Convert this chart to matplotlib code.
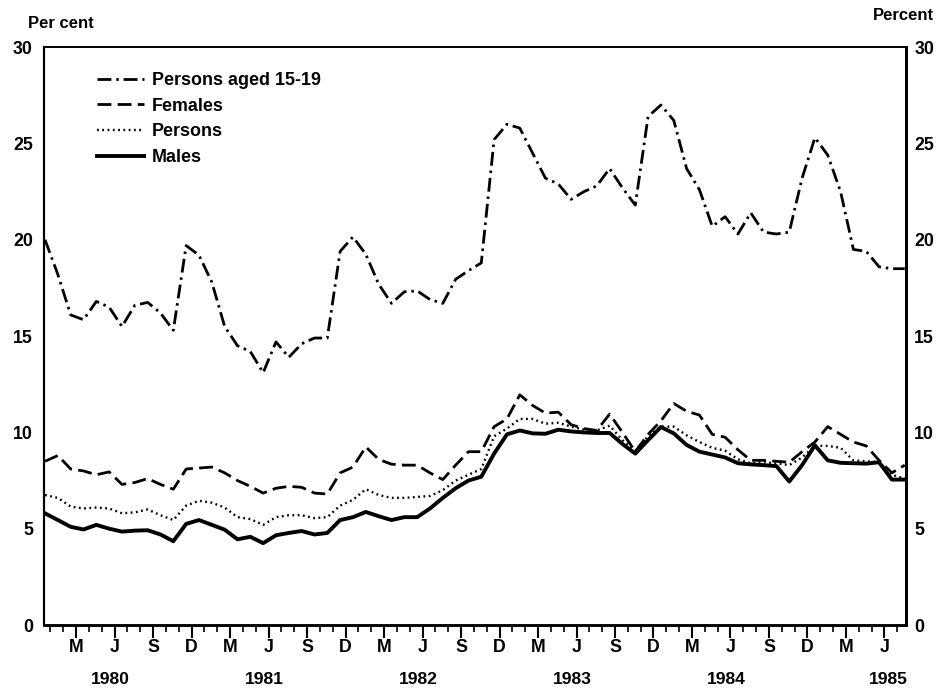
import matplotlib
matplotlib.use("Agg")
import matplotlib.pyplot as plt
import numpy as np

plt.rcParams['font.family'] = ['Liberation Sans', 'DejaVu Sans']
plt.rcParams['font.weight'] = 'bold'
plt.rcParams['lines.scale_dashes'] = False

# monthly values, Jan 1980 .. Aug 1985 (68 points)
teens = [20.0, 18.2, 16.1, 15.85, 16.8, 16.5, 15.5, 16.6, 16.75, 16.2,
         15.3, 19.7, 19.2, 17.8, 15.5, 14.5, 14.2, 13.1, 14.7, 13.9,
         14.6, 14.9, 14.9, 19.4, 20.15, 19.25, 17.7, 16.7, 17.3, 17.35,
         16.9, 16.7, 17.95, 18.4, 18.8, 25.2, 26.0, 25.8, 24.5, 23.2,
         22.9, 22.1, 22.5, 22.8, 23.7, 22.7, 21.8, 26.4, 27.0, 26.2,
         23.7, 22.6, 20.7, 21.2, 20.3, 21.4, 20.4, 20.3, 20.4, 23.2,
         25.3, 24.4, 22.5, 19.5, 19.4, 18.6, 18.5, 18.5]
females = [8.5, 8.8, 8.1, 8.0, 7.8, 7.95, 7.3, 7.4, 7.6, 7.3,
           7.05, 8.1, 8.15, 8.2, 7.9, 7.5, 7.2, 6.85, 7.1, 7.2,
           7.15, 6.85, 6.8, 7.9, 8.2, 9.25, 8.6, 8.35, 8.3, 8.3,
           7.9, 7.55, 8.3, 9.0, 9.0, 10.3, 10.7, 11.95, 11.4, 11.0,
           11.05, 10.4, 10.2, 10.1, 10.95, 10.0, 9.0, 9.9, 10.6, 11.5,
           11.1, 10.9, 9.9, 9.75, 9.1, 8.55, 8.55, 8.5, 8.45, 9.0,
           9.5, 10.3, 9.9, 9.5, 9.3, 8.55, 7.9, 8.3]
persons = [6.75, 6.6, 6.15, 6.05, 6.1, 6.05, 5.8, 5.85, 6.0, 5.7,
           5.45, 6.2, 6.45, 6.35, 6.1, 5.6, 5.5, 5.2, 5.6, 5.7,
           5.7, 5.55, 5.6, 6.2, 6.5, 7.05, 6.75, 6.6, 6.6, 6.65,
           6.7, 7.0, 7.5, 7.8, 8.1, 9.8, 10.2, 10.7, 10.7, 10.45,
           10.5, 10.3, 10.15, 10.1, 10.35, 9.6, 9.07, 9.8, 10.3, 10.3,
           9.85, 9.5, 9.2, 9.05, 8.6, 8.4, 8.45, 8.4, 8.3, 8.7,
           9.3, 9.3, 9.2, 8.55, 8.5, 8.46, 7.8, 7.6]
males = [5.8, 5.45, 5.1, 4.96, 5.2, 5.0, 4.85, 4.9, 4.92, 4.7,
         4.35, 5.25, 5.45, 5.2, 4.95, 4.45, 4.58, 4.25, 4.66, 4.78,
         4.88, 4.7, 4.78, 5.45, 5.6, 5.87, 5.65, 5.45, 5.6, 5.6,
         6.05, 6.6, 7.1, 7.5, 7.7, 8.9, 9.9, 10.1, 9.95, 9.93,
         10.14, 10.05, 10.0, 9.97, 9.97, 9.4, 8.9, 9.6, 10.28, 9.95,
         9.35, 9.0, 8.85, 8.7, 8.4, 8.34, 8.3, 8.25, 7.45, 8.3,
         9.33, 8.55, 8.42, 8.4, 8.38, 8.45, 7.55, 7.55]

month_letters = ['M', 'J', 'S', 'D']
years = ['1980', '1981', '1982', '1983', '1984', '1985']
y_ticks = [0, 5, 10, 15, 20, 25, 30]

months = np.arange(len(teens))
tick_shift = 0.42  # ticks sit a bit right of the plotted points

fig = plt.figure(figsize=(9.42, 6.92), dpi=100)
ax = fig.add_axes([0.0467, 0.0968, 0.9151, 0.835])

ax.plot(months, teens, color='black', lw=2.0, ls=(0, (10, 3.5, 1.8, 3.5)),
        label='Persons aged 15-19')
ax.plot(months, females, color='black', lw=2.0, ls=(0, (10, 4.5)),
        label='Females')
ax.plot(months, persons, color='black', lw=1.7, ls=(0, (1.3, 2.5)),
        label='Persons')
ax.plot(months, males, color='black', lw=2.8, ls='-', label='Males')

ax.set_xlim(-0.08, 67.1)
ax.set_ylim(0, 30)

# x ticks: every month, longer at M J S D
minor = np.arange(0, 67) + tick_shift
major = [m + tick_shift for m in range(67) if m % 12 in (2, 5, 8, 11)]
ax.set_xticks(minor, minor=True)
ax.set_xticks(major)
ax.set_xticklabels([month_letters[i % 4] for i in range(len(major))])
ax.tick_params(axis='x', which='major', length=9, width=1.5, pad=1,
               labelsize=12.8, direction='out')
ax.tick_params(axis='x', which='minor', length=5, width=1.2, direction='out')

for k, yr in enumerate(years):
    pos = 5.1 + 12 * k if k < 5 else 65.7
    ax.text(pos, -0.094, yr, transform=ax.get_xaxis_transform(),
            ha='center', va='center', fontsize=12.6)

ax.set_yticks(y_ticks)
ax.tick_params(axis='y', length=0, pad=8, labelsize=12.8)
ax2 = ax.twinx()
ax2.set_ylim(0, 30)
ax2.set_yticks(y_ticks)
ax2.tick_params(axis='y', length=0, pad=6, labelsize=12.8)

for a in (ax, ax2):
    a.spines['top'].set_linewidth(1.2)
    a.spines['left'].set_linewidth(1.5)
    a.spines['right'].set_linewidth(2.0)
    a.spines['bottom'].set_linewidth(1.8)

fig.text(0.030, 0.966, 'Per cent', ha='left', va='center', fontsize=12)
fig.text(0.992, 0.978, 'Percent', ha='right', va='center', fontsize=12)

ax.legend(loc='upper left', bbox_to_anchor=(0.043, 0.985), frameon=False,
          fontsize=12.9, handlelength=2.6, labelspacing=0.48,
          handletextpad=0.45)

fig.savefig('out.png', dpi=100)
